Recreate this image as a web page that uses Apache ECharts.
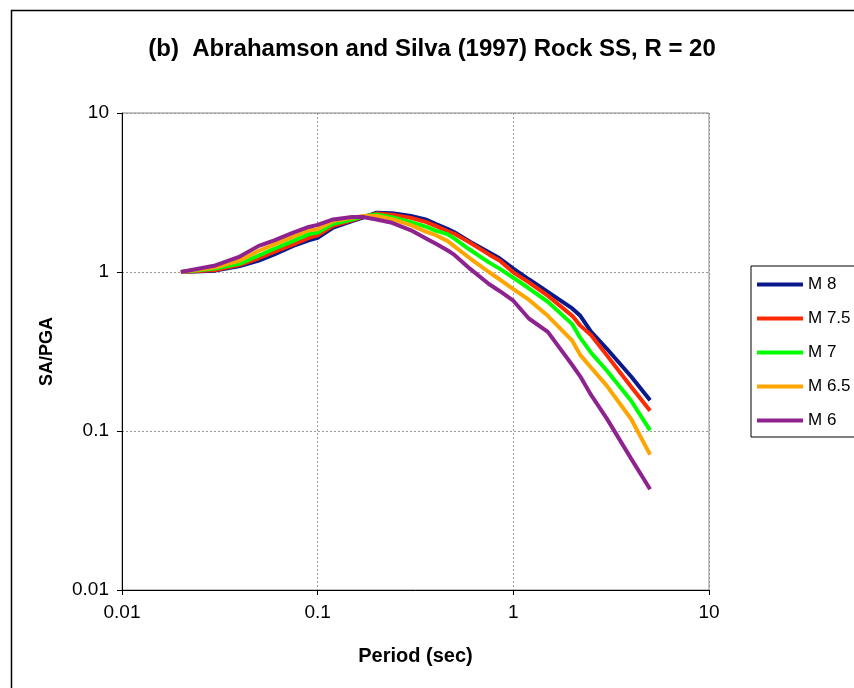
<!DOCTYPE html>
<html><head><meta charset="utf-8">
<script src="https://cdn.jsdelivr.net/npm/echarts@6/dist/echarts.min.js"></script>
<style>html,body{margin:0;padding:0;background:#fff}#c{width:854px;height:688px}</style>
</head><body><div id="c"></div>
<script>
const periods = [0.02,0.03,0.04,0.05,0.06,0.075,0.09,0.1,0.12,0.15,0.17,0.2,0.24,0.3,0.36,0.4,0.46,0.5,0.6,0.75,0.85,1.0,1.2,1.5,2.0,2.2,2.5,3.0,4.0,5.0];
const m8  = [1.0,1.02,1.09,1.18,1.29,1.46,1.58,1.64,1.90,2.09,2.20,2.36,2.34,2.25,2.13,2.01,1.87,1.78,1.55,1.33,1.22,1.05,0.90,0.75,0.59,0.53,0.42,0.33,0.22,0.156];
const m75 = [1.0,1.03,1.11,1.22,1.34,1.49,1.64,1.70,1.95,2.11,2.22,2.33,2.29,2.19,2.06,1.95,1.81,1.74,1.53,1.29,1.18,0.995,0.86,0.71,0.53,0.46,0.40,0.30,0.19,0.134];
const m7  = [1.0,1.05,1.13,1.27,1.40,1.57,1.73,1.77,2.01,2.14,2.24,2.30,2.21,2.06,1.92,1.82,1.73,1.62,1.38,1.15,1.05,0.92,0.79,0.65,0.47,0.385,0.31,0.24,0.155,0.101];
const m65 = [1.0,1.07,1.18,1.36,1.49,1.67,1.83,1.86,2.09,2.19,2.25,2.25,2.15,1.97,1.79,1.71,1.57,1.45,1.22,1.0,0.90,0.78,0.67,0.53,0.37,0.30,0.25,0.193,0.119,0.071];
const m6  = [1.0,1.10,1.25,1.46,1.58,1.77,1.92,1.98,2.14,2.22,2.22,2.14,2.04,1.83,1.62,1.51,1.37,1.28,1.05,0.84,0.76,0.66,0.51,0.42,0.26,0.22,0.168,0.120,0.067,0.043];
const seriesNames = ['M 8','M 7.5','M 7','M 6.5','M 6'];
const seriesColors = ['#0a1a8c','#ff2a00','#00ff00','#ffa500','#8e2390'];
const seriesValues = [m8,m75,m7,m65,m6];

const chart = echarts.init(document.getElementById('c'), null, {renderer:'canvas'});
const font = '"Liberation Sans", Arial, sans-serif';
chart.setOption({
  animation:false,
  backgroundColor:'#fff',
  textStyle:{fontFamily:font},
  title:{text:'(b)  Abrahamson and Silva (1997) Rock SS, R = 20', left:427, top:32, textAlign:'center',
    textStyle:{fontFamily:font, fontSize:24, fontWeight:'bold', color:'#000'}},
  graphic:[{type:'rect', shape:{x:11.5,y:10.5,width:900,height:700}, style:{fill:'none', stroke:'#000', lineWidth:1.5}, silent:true, z:-1}],
  grid:{left:122, right:145, top:113, bottom:98, show:true, borderColor:'#888', borderWidth:1, backgroundColor:'transparent'},
  legend:{orient:'vertical', left:751, top:266, padding:[9,25,7,6], itemGap:15, itemWidth:46, itemHeight:4, icon:'rect',
    borderColor:'#000', borderWidth:1, backgroundColor:'#fff',
    textStyle:{fontFamily:font, fontSize:17, color:'#000', lineHeight:19},
    data:seriesNames},
  xAxis:{type:'log', logBase:10, min:0.01, max:10, name:'Period (sec)', nameLocation:'middle', nameGap:56,
    nameTextStyle:{fontFamily:font, fontSize:20, fontWeight:'bold', color:'#000'},
    axisLine:{show:true, lineStyle:{color:'#000', width:1}},
    axisTick:{show:true, length:5, lineStyle:{color:'#000'}},
    minorTick:{show:false},
    axisLabel:{fontFamily:font, fontSize:19, color:'#000', margin:13, formatter:v=>String(+v.toPrecision(3))},
    splitLine:{show:true, lineStyle:{color:'#999', type:[2,2], width:1}}},
  yAxis:{type:'log', logBase:10, min:0.01, max:10, name:'SA/PGA', nameLocation:'middle', nameGap:66, nameRotate:90,
    nameTextStyle:{fontFamily:font, fontSize:18, fontWeight:'bold', color:'#000'},
    axisLine:{show:true, lineStyle:{color:'#000', width:1}},
    axisTick:{show:true, length:5, lineStyle:{color:'#000'}},
    axisLabel:{fontFamily:font, fontSize:19, color:'#000', margin:13, formatter:v=>String(+v.toPrecision(3))},
    splitLine:{show:true, lineStyle:{color:'#999', type:[2,2], width:1}}},
  series: seriesNames.map((n,i)=>({
    name:n, type:'line', showSymbol:false, symbol:'none', smooth:false,
    lineStyle:{color:seriesColors[i], width:4}, itemStyle:{color:seriesColors[i]},
    data: periods.map((p,j)=>[p, seriesValues[i][j]])
  }))
});
</script></body></html>
